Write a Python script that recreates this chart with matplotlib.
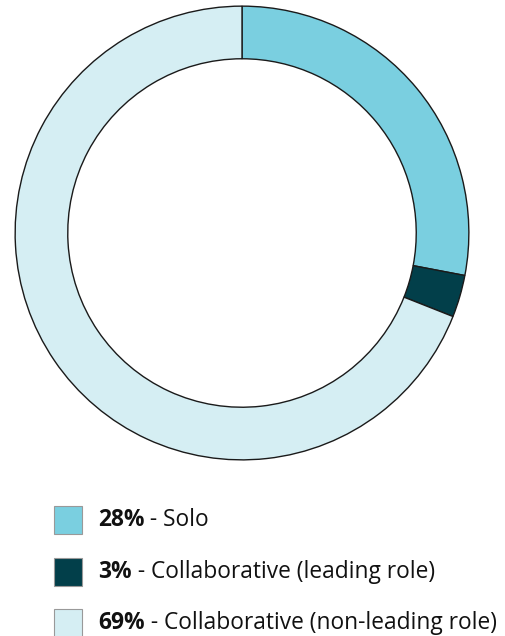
import matplotlib.pyplot as plt
from matplotlib.patches import Rectangle
from matplotlib import font_manager as fm

# shares of work type
labels = ['Solo', 'Collaborative (leading role)', 'Collaborative (non-leading role)']
values = [28, 3, 69]
colors = ['#7ACFE0', '#023F4A', '#D5EEF3']

plt.rcParams['font.family'] = ['Open Sans', 'DejaVu Sans']

# pick a non-condensed bold Open Sans file if there is one
bold_fp = None
cands = [f for f in fm.fontManager.ttflist
         if f.name == 'Open Sans' and f.weight in (700, 'bold') and f.stretch in ('normal', 500)
         and 'ondensed' not in f.fname and 'talic' not in f.fname]
if cands:
    bold_fp = fm.FontProperties(fname=cands[0].fname)

W, H = 505, 636
fig = plt.figure(figsize=(W / 100, H / 100), dpi=100)

# donut, placed in pixel coords: center (242, 233), radius 228
cx, cy, r = 242, 233, 228
ax = fig.add_axes([(cx - r) / W, (H - cy - r) / H, 2 * r / W, 2 * r / H])
ax.pie(values, colors=colors, startangle=90, counterclock=False, radius=1,
       wedgeprops=dict(width=0.232, edgecolor='#1a1a1a', linewidth=1.0))
ax.set_xlim(-1.005, 1.005)
ax.set_ylim(-1.005, 1.005)
ax.set_aspect('equal')
ax.axis('off')

fs = 16.4
rows_y = [520, 572, 623]
for lab, v, c, y in zip(labels, values, colors, rows_y):
    fig.patches.append(Rectangle((54 / W, 1 - (y + 14) / H), 28 / W, 28 / H,
                                 transform=fig.transFigure, facecolor=c,
                                 edgecolor='#999999', linewidth=0.8))
    if bold_fp is not None:
        fp = bold_fp.copy()
        fp.set_size(fs)
        t = fig.text(98 / W, 1 - y / H, f'{v}%', fontproperties=fp,
                     va='center', ha='left', color='#111111')
    else:
        t = fig.text(98 / W, 1 - y / H, f'{v}%', fontsize=fs, fontweight='bold',
                     va='center', ha='left', color='#111111')
    fig.canvas.draw()
    bb = t.get_window_extent()
    fig.text(bb.x1 / W, 1 - y / H, f' - {lab}', fontsize=fs,
             va='center', ha='left', color='#111111')

fig.savefig('out.png', dpi=100)
